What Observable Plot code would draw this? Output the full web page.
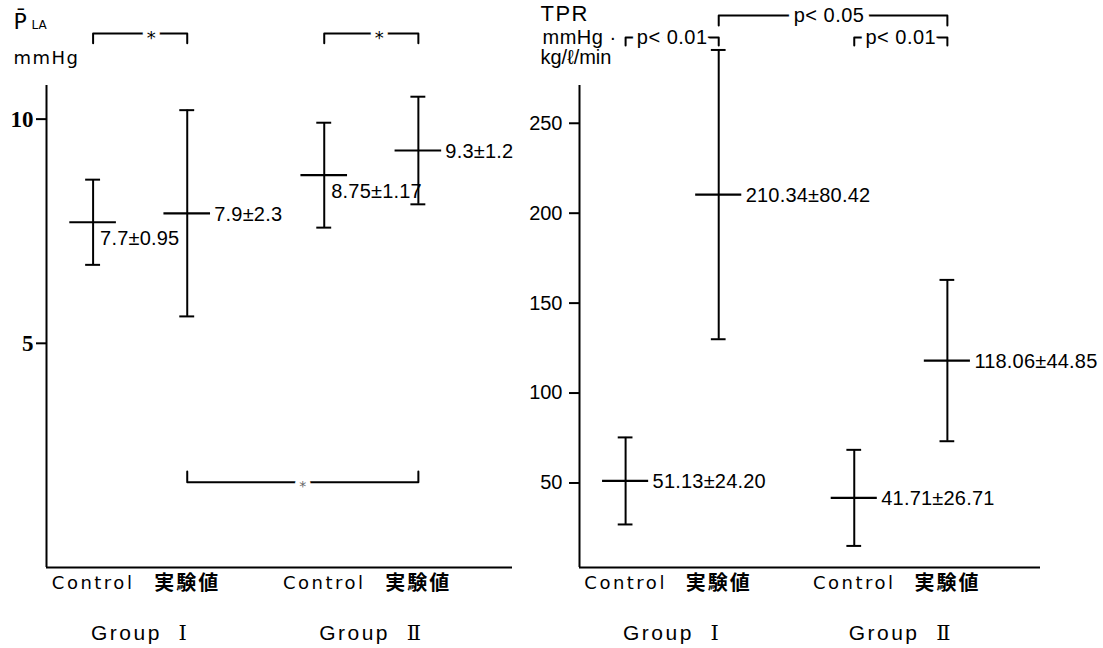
<!DOCTYPE html>
<html><head><meta charset="utf-8">
<script src="https://cdn.jsdelivr.net/npm/d3@7"></script>
<script src="https://cdn.jsdelivr.net/npm/@observablehq/plot@0.6"></script>
<style>
html,body{margin:0;padding:0;background:#fff;}
#chart{position:relative;width:1103px;height:648px;overflow:hidden;}
#chart svg{position:absolute;left:0;top:0;}
</style></head><body><div id="chart"></div>
<script>
// ---------- data ----------
const conditions = ["Control", "実験値", "Control", "実験値"];
const groups = ["Group Ⅰ", "Group Ⅰ", "Group Ⅱ", "Group Ⅱ"];
const groupNames = ["Group Ⅰ", "Group Ⅱ"];
const conditionNames = ["Control", "実験値"];

const plaMean = [7.7, 7.9, 8.75, 9.3];
const plaSD = [0.95, 2.3, 1.17, 1.2];
const plaText = ["7.7±0.95", "7.9±2.3", "8.75±1.17", "9.3±1.2"];
const plaTicks = [5, 10];

const tprMean = [51.13, 210.34, 41.71, 118.06];
const tprSD = [24.20, 80.42, 26.71, 44.85];
const tprText = ["51.13±24.20", "210.34±80.42", "41.71±26.71", "118.06±44.85"];
const tprTicks = [50, 100, 150, 200, 250];

const plaComparisons = [{a: 0, b: 1, label: "*"}, {a: 2, b: 3, label: "*"}, {a: 1, b: 3, label: "*"}];
const tprComparisons = [{a: 0, b: 1, label: "p< 0.01"}, {a: 1, b: 3, label: "p< 0.05"}, {a: 2, b: 3, label: "p< 0.01"}];

// ---------- layout (positions / styles) ----------
const W = 1103, H = 648;
const layout = {groupStep: 2.48, condStep: 1.01, xDomain: [-0.5, 4.5], capW: 0.08, barW: 0.25};
const slotU = conditions.map((c, i) => groupNames.indexOf(groups[i]) * layout.groupStep + conditionNames.indexOf(c) * layout.condStep);

const sans = "'Liberation Sans', Arial, sans-serif";

const panels = [
  {
    mean: plaMean, sd: plaSD, text: plaText, ticks: plaTicks, comps: plaComparisons,
    margins: {left: 46, right: W - 512},
    yDomain: [0, 10.75],
    below: [true, false, true, false],
    brackets: [{level: 11.91, tip: 11.69, size: 18, fill: "#000", halo: 9, dx: 11, dy: 5, font: "'DejaVu Sans', sans-serif"},
               {level: 11.91, tip: 11.69, size: 18, fill: "#000", halo: 9, dx: 8, dy: 5, font: "'DejaVu Sans', sans-serif"},
               {level: 1.90, tip: 2.14, size: 14, fill: "#666", halo: 9, dx: 0, dy: 4, font: "'DejaVu Sans', sans-serif"}],
    tickFont: {fontSize: 23, fontFamily: "'Liberation Serif', serif", fontWeight: "bold", tickPadding: 3},
    titles: [
      {text: "P\u0304", dx: -33, dy: -57, fontSize: 22, fontFamily: "'DejaVu Sans', sans-serif"},
      {text: "LA", dx: -15, dy: -57, fontSize: 12, fontFamily: "'DejaVu Sans', sans-serif"},
      {text: "mmHg", dx: -33, dy: -22, fontSize: 18, fontFamily: "'DejaVu Sans', sans-serif"}
    ]
  },
  {
    mean: tprMean, sd: tprSD, text: tprText, ticks: tprTicks, comps: tprComparisons,
    margins: {left: 579, right: W - 1040},
    yDomain: [3, 271],
    below: [false, false, false, false],
    brackets: [{level: 297.7, tip: 293.2, size: 20, fill: "#000", halo: 10, dx: 0, dy: 0, font: sans},
               {level: 309.9, tip: 304.4, size: 20, fill: "#000", halo: 12, dx: -4, dy: 0, font: sans},
               {level: 297.7, tip: 293.2, size: 20, fill: "#000", halo: 10, dx: 0, dy: 0, font: sans}],
    tickFont: {fontSize: 20, fontFamily: sans, fontWeight: "normal", tickPadding: 7},
    titles: [
      {text: "TPR", dx: -39, dy: -65, fontSize: 22, fontFamily: sans},
      {text: "mmHg ·", dx: -37, dy: -42, fontSize: 20, fontFamily: sans},
      {text: "kg/ℓ/min", dx: -39, dy: -22, fontSize: 20, fontFamily: sans}
    ]
  }
];

function makePanel(p) {
  const rows = conditions.map((c, i) => ({
    i, cond: c, group: groups[i], u: slotU[i], mean: p.mean[i], sd: p.sd[i], label: p.text[i], below: p.below[i]
  }));
  const groupRows = groupNames.map(g => ({
    group: g, u: d3.mean(rows.filter(r => r.group === g), r => r.u)
  }));
  const bracketPts = [];
  const bracketLabels = [];
  p.comps.forEach((c, k) => {
    const L = p.brackets[k];
    const ua = slotU[c.a], ub = slotU[c.b];
    bracketPts.push({k, u: ua, v: L.tip}, {k, u: ua, v: L.level}, {k, u: ub, v: L.level}, {k, u: ub, v: L.tip});
    bracketLabels.push({label: c.label, u: (ua + ub) / 2, v: L.level, ...L});
  });
  const [y0, y1] = p.yDomain;
  const [x0, x1] = layout.xDomain;
  const marks = [
    Plot.ruleX([x0], {y1: y0, y2: y1, strokeWidth: 2}),
    Plot.ruleY([y0], {x1: x0, x2: x1, strokeWidth: 2}),
    Plot.axisY({ticks: p.ticks, anchor: "left", tickSize: 10, tickPadding: p.tickFont.tickPadding, strokeWidth: 2,
      fontSize: p.tickFont.fontSize, fontFamily: p.tickFont.fontFamily, fontWeight: p.tickFont.fontWeight, label: null}),
    Plot.ruleX(rows, {x: "u", y1: d => d.mean - d.sd, y2: d => d.mean + d.sd, strokeWidth: 2}),
    Plot.ruleY(rows, {y: d => d.mean + d.sd, x1: d => d.u - layout.capW, x2: d => d.u + layout.capW, strokeWidth: 2}),
    Plot.ruleY(rows, {y: d => d.mean - d.sd, x1: d => d.u - layout.capW, x2: d => d.u + layout.capW, strokeWidth: 2}),
    Plot.ruleY(rows, {y: "mean", x1: d => d.u - layout.barW, x2: d => d.u + layout.barW, strokeWidth: 2.2}),
    Plot.text(rows.filter(d => !d.below), {x: "u", y: "mean", text: "label", textAnchor: "start", dx: 27, dy: 1,
      fontSize: 20, fontFamily: sans}),
    Plot.text(rows.filter(d => d.below), {x: "u", y: "mean", text: "label", textAnchor: "start", dx: 7, dy: 16,
      fontSize: 20, fontFamily: sans}),
    Plot.line(bracketPts, {x: "u", y: "v", z: "k", strokeWidth: 2, curve: "linear"}),
    ...bracketLabels.map(b => Plot.text([b], {x: "u", y: "v", text: "label", fontSize: b.size, fontFamily: b.font,
      fill: b.fill, stroke: "white", strokeWidth: b.halo, paintOrder: "stroke", dx: b.dx, dy: b.dy})),
    Plot.text(rows.filter(d => d.cond === "Control"), {x: "u", text: "cond", frameAnchor: "bottom", dy: 16, lineAnchor: "middle",
      fontSize: 18, fontFamily: "'DejaVu Sans', sans-serif"}),
    Plot.text(rows.filter(d => d.cond !== "Control"), {x: "u", text: "cond", frameAnchor: "bottom", dy: 16, lineAnchor: "middle",
      fontSize: 20, fontWeight: "bold", fontFamily: "'Noto Sans CJK JP', sans-serif"}),
    Plot.text(groupRows, {x: "u", text: d => d.group.replace(" ", "  "), frameAnchor: "bottom", dy: 66, lineAnchor: "middle",
      fontSize: 21, fontFamily: "'Liberation Sans', 'DejaVu Serif', serif"}),
    ...p.titles.map(t => Plot.text([t], {text: d => d.text, frameAnchor: "top-left", textAnchor: "start", lineAnchor: "bottom",
      dx: t.dx, dy: t.dy, fontSize: t.fontSize, fontFamily: t.fontFamily}))
  ];
  return Plot.plot({
    width: W, height: H,
    marginTop: 85, marginBottom: H - 567, marginLeft: p.margins.left, marginRight: p.margins.right,
    x: {domain: layout.xDomain, axis: null},
    y: {domain: p.yDomain, axis: null},
    style: {background: "transparent", overflow: "visible"},
    marks
  });
}

const chart = document.getElementById("chart");
panels.forEach(p => chart.appendChild(makePanel(p)));

d3.select(chart).selectAll("text").each(function() {
  const t = this.textContent;
  if (t === "Control") this.style.letterSpacing = "2.5px";
  else if (t === "実験値") this.style.letterSpacing = "2px";
  else if (t.startsWith("Group")) this.style.letterSpacing = "2.5px";
  else if (t.includes("±")) this.style.letterSpacing = "0.2px";
  else if (t.startsWith("p<")) this.style.letterSpacing = "0.5px";
  else if (t === "mmHg" || t === "TPR") this.style.letterSpacing = "1.5px";
  else if (t === "mmHg ·") this.style.letterSpacing = "0.5px";
});
</script>
</body></html>
